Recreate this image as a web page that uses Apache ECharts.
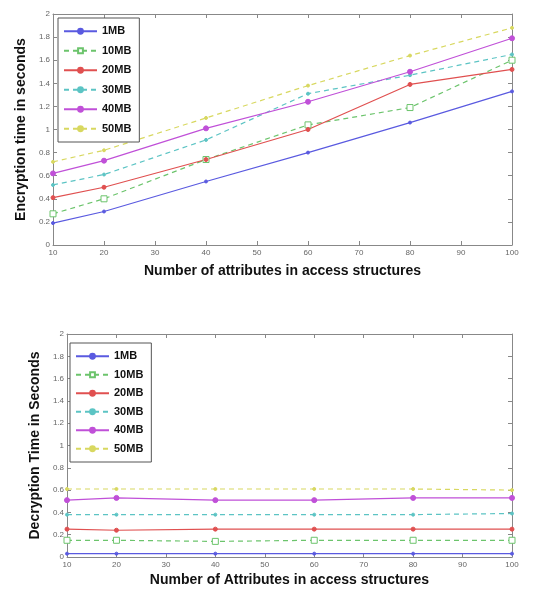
<!DOCTYPE html>
<html>
<head>
<meta charset="utf-8">
<script src="https://cdn.jsdelivr.net/npm/echarts@6/dist/echarts.min.js"></script>
<style>html,body{margin:0;padding:0;background:#fff}#c{width:538px;height:590px}</style>
</head>
<body>
<div id="c"></div>
<script>
var xValues = [10, 20, 40, 60, 80, 100];
var seriesNames = ['1MB', '10MB', '20MB', '30MB', '40MB', '50MB'];
var yTicks = [0, 0.2, 0.4, 0.6, 0.8, 1, 1.2, 1.4, 1.6, 1.8, 2];
var xTicks = [10, 20, 30, 40, 50, 60, 70, 80, 90, 100];

var enc1MB  = [0.19, 0.29, 0.55, 0.80, 1.06, 1.33];
var enc10MB = [0.27, 0.40, 0.74, 1.04, 1.19, 1.60];
var enc20MB = [0.41, 0.50, 0.74, 1.00, 1.39, 1.52];
var enc30MB = [0.52, 0.61, 0.91, 1.31, 1.47, 1.65];
var enc40MB = [0.62, 0.73, 1.01, 1.24, 1.50, 1.79];
var enc50MB = [0.72, 0.82, 1.10, 1.38, 1.64, 1.88];

var dec1MB  = [0.03, 0.03, 0.03, 0.03, 0.03, 0.03];
var dec10MB = [0.15, 0.15, 0.14, 0.15, 0.15, 0.15];
var dec20MB = [0.25, 0.24, 0.25, 0.25, 0.25, 0.25];
var dec30MB = [0.38, 0.38, 0.38, 0.38, 0.38, 0.39];
var dec40MB = [0.51, 0.53, 0.51, 0.51, 0.53, 0.53];
var dec50MB = [0.61, 0.61, 0.61, 0.61, 0.61, 0.60];

var encData = [enc1MB, enc10MB, enc20MB, enc30MB, enc40MB, enc50MB];
var decData = [dec1MB, dec10MB, dec20MB, dec30MB, dec40MB, dec50MB];

var styles = [
  {color: '#5a5ae0', type: 'solid',  symbol: 'circle', size: 3, hollow: false},
  {color: '#6cc46c', type: [5, 4],   symbol: 'rect',   size: 6, hollow: true},
  {color: '#e05050', type: 'solid',  symbol: 'circle', size: 4, hollow: false},
  {color: '#5cc4c4', type: [5, 4],   symbol: 'circle', size: 3, hollow: false},
  {color: '#c050d8', type: 'solid',  symbol: 'circle', size: 5, hollow: false},
  {color: '#d8d860', type: [5, 4],   symbol: 'circle', size: 3, hollow: false}
];

function pairs(arr) { return xValues.map(function (x, i) { return [x, arr[i]]; }); }

var series = [];
[encData, decData].forEach(function (set, gi) {
  set.forEach(function (vals, si) {
    var s = styles[si];
    series.push({
      name: seriesNames[si],
      type: 'line',
      xAxisIndex: gi * 2,
      yAxisIndex: gi * 2,
      data: pairs(vals),
      symbol: s.symbol,
      symbolSize: s.size,
      showSymbol: true,
      lineStyle: {color: s.color, width: 1.2, type: s.type},
      itemStyle: s.hollow ? {color: '#fff', borderColor: s.color, borderWidth: 1} : {color: s.color, borderColor: s.color, borderWidth: 1},
      emphasis: {disabled: true},
      animation: false
    });
  });
});

var tickLabelStyle = {fontSize: 8, color: '#666', fontFamily: 'Liberation Sans'};
var nameStyle = {fontSize: 14, fontWeight: 'bold', color: '#111', fontFamily: 'Liberation Sans'};

function mainX(gridIndex, name, gap) {
  return {
    type: 'value', gridIndex: gridIndex, min: 10, max: 100, interval: 10,
    name: name, nameLocation: 'middle', nameGap: gap, nameTextStyle: nameStyle,
    axisLine: {show: true, onZero: false, lineStyle: {color: '#888'}},
    axisTick: {show: true, inside: true, length: 4, lineStyle: {color: '#888'}},
    axisLabel: Object.assign({margin: 4}, tickLabelStyle),
    splitLine: {show: false}
  };
}
function boxX(gridIndex) {
  return {
    type: 'value', gridIndex: gridIndex, min: 10, max: 100, interval: 10, position: 'top',
    axisLine: {show: true, onZero: false, lineStyle: {color: '#888'}},
    axisTick: {show: true, inside: true, length: 4, lineStyle: {color: '#888'}},
    axisLabel: {show: false}, splitLine: {show: false}
  };
}
function mainY(gridIndex, name, gap) {
  return {
    type: 'value', gridIndex: gridIndex, min: 0, max: 2, interval: 0.2,
    name: name, nameLocation: 'middle', nameGap: gap, nameRotate: 90, nameTextStyle: nameStyle,
    axisLine: {show: true, onZero: false, lineStyle: {color: '#888'}},
    axisTick: {show: true, inside: true, length: 4, lineStyle: {color: '#888'}},
    axisLabel: Object.assign({margin: 3}, tickLabelStyle),
    splitLine: {show: false}
  };
}
function boxY(gridIndex) {
  return {
    type: 'value', gridIndex: gridIndex, min: 0, max: 2, interval: 0.2, position: 'right',
    axisLine: {show: true, onZero: false, lineStyle: {color: '#888'}},
    axisTick: {show: true, inside: true, length: 4, lineStyle: {color: '#888'}},
    axisLabel: {show: false}, splitLine: {show: false}
  };
}

function legendAt(left, top, gap) {
  return {
    data: seriesNames, orient: 'vertical', left: left, top: top,
    itemWidth: 33, itemHeight: 6, itemGap: gap,
    padding: [7, 8, 7, 5],
    borderColor: '#555', borderWidth: 1, backgroundColor: '#fff',
    textStyle: {fontSize: 11, fontWeight: 'bold', color: '#111', fontFamily: 'Liberation Sans', lineHeight: 12.5},
    selectedMode: false
  };
}

var chart = echarts.init(document.getElementById('c'), null, {renderer: 'canvas'});
chart.setOption({
  backgroundColor: '#fff',
  animation: false,
  grid: [
    {left: 53, top: 14, width: 459, height: 231},
    {left: 67, top: 334, width: 445, height: 223}
  ],
  xAxis: [
    mainX(0, 'Number of attributes in access structures', 19), boxX(0),
    mainX(1, 'Number of Attributes in access structures', 16), boxX(1)
  ],
  yAxis: [
    mainY(0, 'Encryption time in seconds', 24), boxY(0),
    mainY(1, 'Decryption Time in Seconds', 22), boxY(1)
  ],
  legend: [legendAt(58, 18, 7), legendAt(70, 343, 6)],
  series: series
});
</script>
</body>
</html>
